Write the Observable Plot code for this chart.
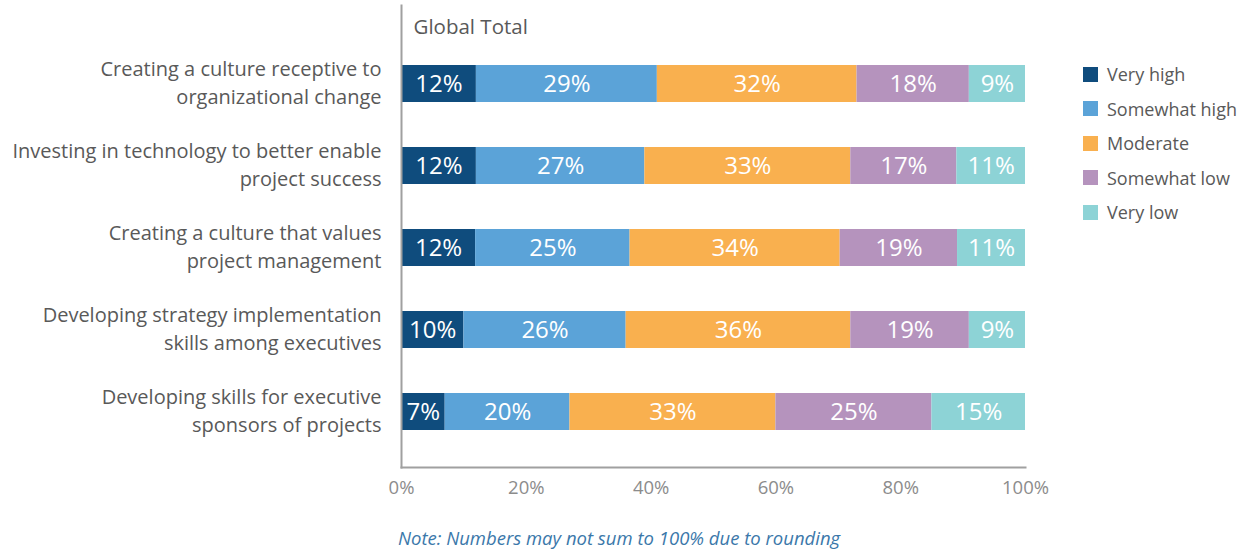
<!DOCTYPE html>
<html>
<head>
<meta charset="utf-8">
<script src="https://cdn.jsdelivr.net/npm/d3@7"></script>
<script src="https://cdn.jsdelivr.net/npm/@observablehq/plot@0.6"></script>
<style>
  html, body { margin: 0; padding: 0; background: #fff; }
  #wrap { position: relative; width: 1246px; height: 552px; font-family: "Open Sans", Lato, sans-serif; }
  #legend { position: absolute; left: 1083px; top: 57px; }
  .li { display: flex; align-items: center; height: 34.5px; font-size: 18px; color: #595959; }
  .sw { width: 15px; height: 15px; margin-right: 9px; }
  #note { position: absolute; left: 398px; top: 525px; font-size: 18.5px; font-style: italic; color: #3b78aa; }
</style>
</head>
<body>
<div id="wrap">
  <div id="chart"></div>
  <div id="legend"></div>
  <div id="note">Note: Numbers may not sum to 100% due to rounding</div>
</div>
<script>
const items = [
  "Creating a culture receptive to\norganizational change",
  "Investing in technology to better enable\nproject success",
  "Creating a culture that values\nproject management",
  "Developing strategy implementation\nskills among executives",
  "Developing skills for executive\nsponsors of projects"
];
const levels = ["Very high", "Somewhat high", "Moderate", "Somewhat low", "Very low"];
const veryHigh     = [12, 12, 12, 10, 7];
const somewhatHigh = [29, 27, 25, 26, 20];
const moderate     = [32, 33, 34, 36, 33];
const somewhatLow  = [18, 17, 19, 19, 25];
const veryLow      = [9, 11, 11, 9, 15];
const colors = ["#0f4c7d", "#5ba3d8", "#f9b04f", "#b593bd", "#8dd3d6"];
const xTicks = [0, 0.2, 0.4, 0.6, 0.8, 1];
const title = "Global Total";

const series = [veryHigh, somewhatHigh, moderate, somewhatLow, veryLow];
const data = [];
items.forEach((item, i) => {
  levels.forEach((lvl, j) => data.push({item, level: lvl, value: series[j][i]}));
});

const chart = Plot.plot({
  width: 1246,
  height: 510,
  marginLeft: 401,
  marginRight: 221,
  marginTop: 5,
  marginBottom: 43,
  style: {fontFamily: "'Open Sans', Lato, sans-serif", background: "#fff"},
  x: {domain: [0, 1], ticks: xTicks, tickFormat: d3.format(".0%")},
  y: {domain: items, paddingInner: 0.55, paddingOuter: 0.2, insetTop: 42, insetBottom: 19},
  color: {domain: levels, range: colors},
  marks: [
    Plot.barX(data, Plot.stackX({x: "value", y: "item", fill: "level", order: levels, offset: "normalize"})),
    Plot.textX(data, Plot.stackX({x: "value", y: "item", z: "level", order: levels, offset: "normalize",
      text: d => d.value + "%", fill: "white", fontSize: 24})),
    Plot.axisY({tickSize: 0, tickPadding: 20, dy: -3, fontSize: 20, color: "#595959", lineHeight: 1.38, label: null}),
    Plot.axisX({ticks: xTicks, tickFormat: d3.format(".0%"), tickSize: 0, tickPadding: 13, fontSize: 18.5, color: "#8c8c8c", label: null}),
    Plot.frame({anchor: "left", stroke: "#a0a0a0", strokeWidth: 2}),
    Plot.frame({anchor: "bottom", stroke: "#a0a0a0", strokeWidth: 2}),
    Plot.text([title], {frameAnchor: "top-left", dx: 12, dy: 14, lineAnchor: "top", fontSize: 20.5, fill: "#595959"})
  ]
});
document.getElementById("chart").appendChild(chart);

const legend = document.getElementById("legend");
levels.forEach((lvl, j) => {
  const row = document.createElement("div");
  row.className = "li";
  const sw = document.createElement("span");
  sw.className = "sw";
  sw.style.background = colors[j];
  row.appendChild(sw);
  row.appendChild(document.createTextNode(lvl));
  legend.appendChild(row);
});
</script>
</body>
</html>
